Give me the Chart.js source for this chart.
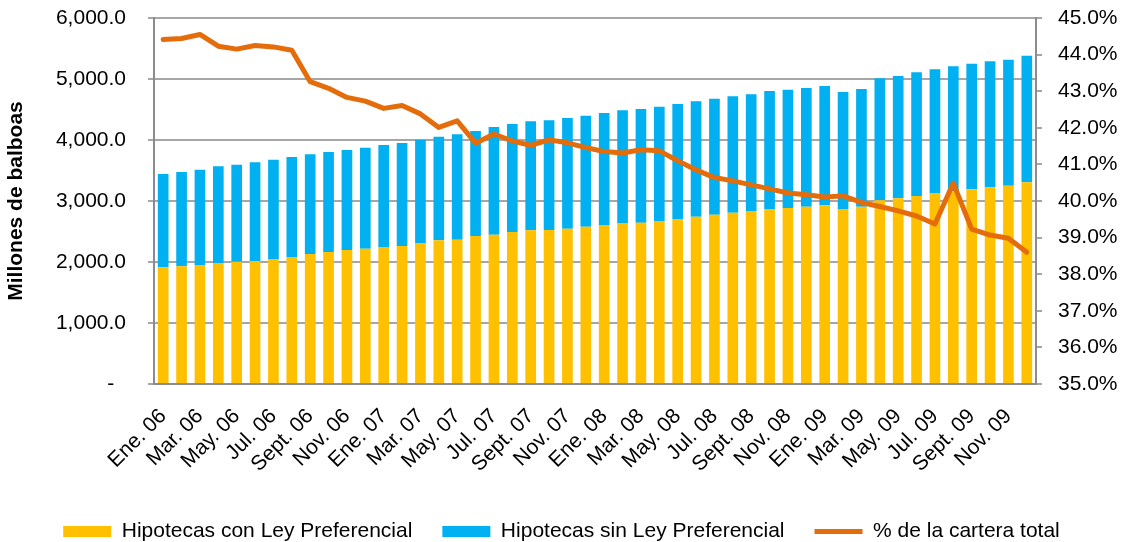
<!DOCTYPE html>
<html>
<head>
<meta charset="utf-8">
<script src="https://cdn.jsdelivr.net/npm/chart.js@4.4.0/dist/chart.umd.min.js"></script>
<style>html,body{margin:0;padding:0;background:#fff}</style>
</head>
<body>
<canvas id="chart" width="1123" height="542"></canvas>
<script>
// monthly series, Ene. 06 .. Dic. 09
const months = [
  'Ene. 06','Feb. 06','Mar. 06','Abr. 06','May. 06','Jun. 06','Jul. 06','Ago. 06','Sept. 06','Oct. 06','Nov. 06','Dic. 06',
  'Ene. 07','Feb. 07','Mar. 07','Abr. 07','May. 07','Jun. 07','Jul. 07','Ago. 07','Sept. 07','Oct. 07','Nov. 07','Dic. 07',
  'Ene. 08','Feb. 08','Mar. 08','Abr. 08','May. 08','Jun. 08','Jul. 08','Ago. 08','Sept. 08','Oct. 08','Nov. 08','Dic. 08',
  'Ene. 09','Feb. 09','Mar. 09','Abr. 09','May. 09','Jun. 09','Jul. 09','Ago. 09','Sept. 09','Oct. 09','Nov. 09','Dic. 09'
];
const conLey = [
  1913, 1929, 1951, 1984, 2005, 2016, 2049, 2082, 2131, 2164, 2197, 2218,
  2246, 2262, 2311, 2356, 2366, 2426, 2448, 2492, 2519, 2525, 2546, 2579,
  2607, 2639, 2644, 2672, 2705, 2743, 2775, 2808, 2836, 2869, 2885, 2907,
  2929, 2869, 2907, 3011, 3044, 3082, 3131, 3159, 3191, 3224, 3251, 3306
];
const sinLey = [
  1530, 1546, 1562, 1585, 1590, 1618, 1628, 1639, 1635, 1639, 1639, 1656,
  1672, 1689, 1694, 1698, 1727, 1722, 1765, 1770, 1787, 1797, 1815, 1819,
  1836, 1847, 1864, 1874, 1885, 1891, 1902, 1908, 1913, 1934, 1940, 1945,
  1956, 1918, 1929, 2000, 2005, 2028, 2028, 2049, 2060, 2066, 2065, 2076
];
const pctCartera = [
  44.41, 44.44, 44.55, 44.23, 44.15, 44.25, 44.21, 44.12, 43.26, 43.08, 42.83, 42.73,
  42.53, 42.61, 42.38, 42.01, 42.19, 41.58, 41.83, 41.64, 41.52, 41.67, 41.59, 41.46,
  41.35, 41.31, 41.40, 41.37, 41.10, 40.85, 40.64, 40.55, 40.44, 40.33, 40.22, 40.17,
  40.11, 40.14, 39.96, 39.85, 39.73, 39.59, 39.37, 40.49, 39.23, 39.07, 38.98, 38.60
];

Chart.defaults.font.family = "'Liberation Sans', Arial, sans-serif";
Chart.defaults.color = '#000';

const gridGray = '#a6a6a6';
const axisGray = '#8c8c8c';

// keep the plot box fixed: no extra label padding above/below
function fixY(width) {
  return s => { s.width = width; s.paddingTop = 0; s.paddingBottom = 0; };
}

new Chart(document.getElementById('chart').getContext('2d'), {
  type: 'bar',
  data: {
    labels: months,
    datasets: [
      { label: 'Hipotecas con Ley Preferencial', data: conLey, backgroundColor: '#FFC000', order: 1, pointStyle: 'rect', barPercentage: 0.58, categoryPercentage: 1 },
      { label: 'Hipotecas sin Ley Preferencial', data: sinLey, backgroundColor: '#00B0F0', order: 2, pointStyle: 'rect', barPercentage: 0.58, categoryPercentage: 1 },
      { type: 'line', label: '% de la cartera total', data: pctCartera, yAxisID: 'y1', borderColor: '#E46C0A', backgroundColor: '#E46C0A',
        borderWidth: 5, pointRadius: 0, order: 0, pointStyle: 'line', tension: 0, borderJoinStyle: 'round', borderCapStyle: 'round' }
    ]
  },
  options: {
    responsive: false, animation: false, devicePixelRatio: 1,
    layout: { padding: { top: 18, left: 0, right: 0, bottom: -10 } },
    plugins: {
      legend: {
        position: 'bottom',
        labels: { usePointStyle: true, pointStyleWidth: 48, boxHeight: 11, padding: 30, font: { size: 21 }, color: '#000',
          sort: (a, b) => a.datasetIndex - b.datasetIndex }
      },
      tooltip: { enabled: false }
    },
    scales: {
      x: {
        stacked: true,
        grid: { display: false, drawTicks: false },
        border: { color: axisGray, width: 2 },
        ticks: { autoSkip: false, minRotation: 45, maxRotation: 45, padding: 20, font: { size: 21 },
          callback: (v, i) => i % 2 === 0 ? months[i] : '' },
        afterFit: s => { s.height = 107; }
      },
      y: {
        stacked: true, min: 0, max: 6000,
        ticks: { stepSize: 1000, padding: 22, font: { size: 21 },
          callback: v => v === 0 ? '-\u00a0\u00a0' : v.toLocaleString('en-US', { minimumFractionDigits: 1, maximumFractionDigits: 1 }) },
        grid: { color: gridGray, lineWidth: 2, tickLength: 6 },
        border: { color: axisGray, width: 2 },
        title: { display: true, text: 'Millones de balboas', font: { size: 21, weight: 'bold' }, color: '#000', padding: { top: 4, bottom: 0 } },
        afterFit: fixY(154)
      },
      y1: {
        position: 'right', min: 35, max: 45,
        ticks: { stepSize: 1, padding: 16, font: { size: 21 }, callback: v => v.toFixed(1) + '%' },
        grid: { drawOnChartArea: false, color: gridGray, lineWidth: 2, tickLength: 6 },
        border: { color: axisGray, width: 2 },
        afterFit: fixY(87)
      }
    }
  }
});
</script>
</body>
</html>
